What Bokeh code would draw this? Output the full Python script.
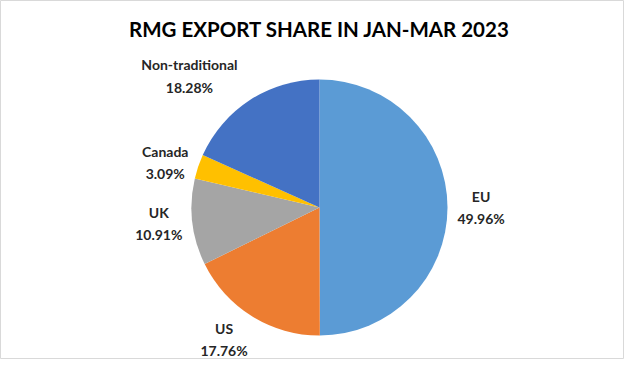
import math
from bokeh.plotting import figure
from bokeh.models import Range1d, ColumnDataSource, Label
from bokeh.embed import file_html
from bokeh.resources import INLINE
from bokeh.core.properties import value

categories = ["EU", "US", "UK", "Canada", "Non-traditional"]
shares = [49.96, 17.76, 10.91, 3.09, 18.28]
colors = ["#5B9BD5", "#ED7D31", "#A5A5A5", "#FFC000", "#4472C4"]
title_text = "RMG EXPORT SHARE IN JAN-MAR 2023"

W, H = 624, 359
cx, cy, r = 319, H - 207, 128

p = figure(width=W, height=H, x_range=Range1d(0, W), y_range=Range1d(0, H),
           output_backend="svg", toolbar_location=None, min_border=0)
p.axis.visible = False
p.grid.visible = False
p.outline_line_color = "#D9D9D9"
p.background_fill_color = "white"
p.border_fill_color = "white"

total = sum(shares)
starts, ends, lx, ly, texts = [], [], [], [], []
cum = 0.0
for cat, v in zip(categories, shares):
    a0 = math.pi / 2 - 2 * math.pi * cum / total
    cum += v
    a1 = math.pi / 2 - 2 * math.pi * cum / total
    starts.append(a0)
    ends.append(a1)
    mid = (a0 + a1) / 2
    dx, dy = math.cos(mid), math.sin(mid)
    ax, ay = cx + 140 * dx, cy + 140 * dy
    txt = f"{cat}\n{v:.2f}%"
    w = max(len(s) for s in txt.split("\n")) * 7.2
    hx = w / 2 if dx > 0.3 else (-w / 2 if dx < -0.3 else 0)
    hy = 14 if dy > 0.5 else (-13 if dy < -0.5 else 0)
    lx.append(ax + hx)
    ly.append(ay + hy)
    texts.append(txt)

src = ColumnDataSource(dict(cat=categories, share=shares, color=colors,
                            start=starts, end=ends, lx=lx, ly=ly, text=texts))

p.wedge(x=cx, y=cy, radius=r, start_angle="start", end_angle="end",
        direction="clock", fill_color="color", line_color=None, source=src)

p.text(x="lx", y="ly", text="text", source=src, text_align="center",
       text_baseline="middle", text_font=value("Lato"), text_font_style="bold",
       text_font_size="14px", text_color="#262626", text_line_height=1.3)

p.add_layout(Label(x=319, y=H - 28, text=title_text, text_align="center",
                   text_baseline="middle", text_font="Lato", text_font_style="bold",
                   text_font_size="20.5px", text_color="#000000"))

open("out.html", "w").write(file_html(p, INLINE))
